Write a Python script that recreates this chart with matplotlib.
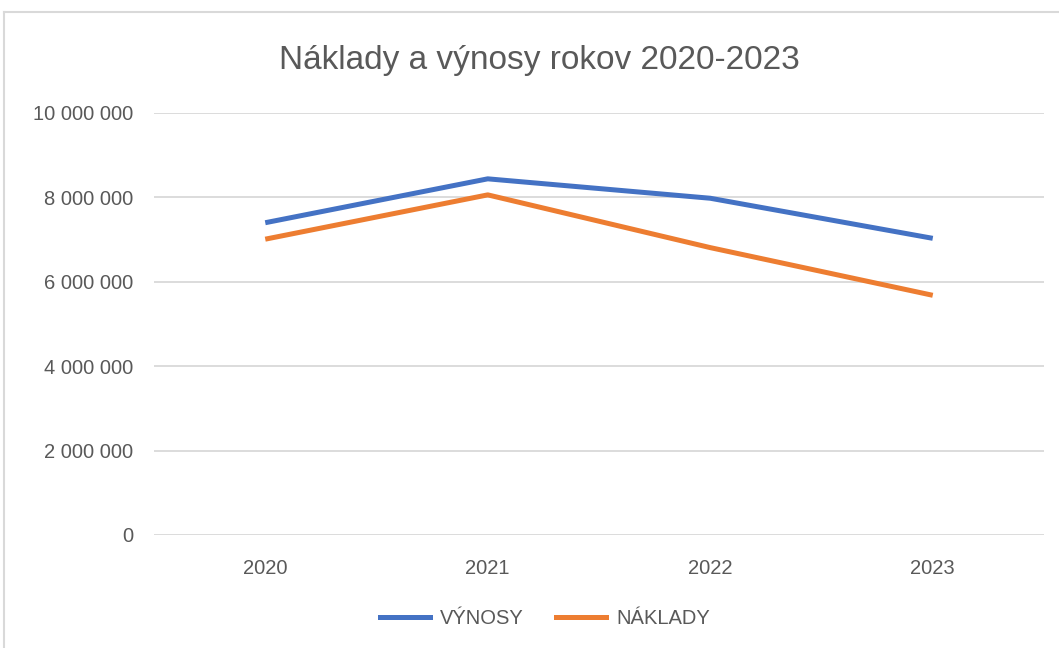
import matplotlib
matplotlib.use("Agg")
import matplotlib.pyplot as plt
from matplotlib.ticker import FuncFormatter
from matplotlib.lines import Line2D

years = ["2020", "2021", "2022", "2023"]
vynosy = [7400000, 8440000, 7980000, 7030000]
naklady = [7010000, 8060000, 6810000, 5680000]
yticks = [0, 2000000, 4000000, 6000000, 8000000, 10000000]

TEXT = "#595959"
GRID = "#D9D9D9"
BLUE = "#4472C4"
ORANGE = "#ED7D31"

plt.rcParams["font.family"] = ["Liberation Sans", "DejaVu Sans"]

W, H = 1059, 648
fig = plt.figure(figsize=(W / 100, H / 100), dpi=100)
ax = fig.add_axes([154 / W, 1 - 535 / H, (1044 - 154) / W, (535 - 113) / H])

x = list(range(len(years)))
ax.plot(x, vynosy, color=BLUE, lw=3.6, solid_capstyle="butt", solid_joinstyle="round", label="VÝNOSY", zorder=3)
ax.plot(x, naklady, color=ORANGE, lw=3.6, solid_capstyle="butt", solid_joinstyle="round", label="NÁKLADY", zorder=3)

ax.set_xlim(-0.5, len(years) - 0.5)
ax.set_ylim(0, 10000000)
ax.set_xticks(x)
ax.set_xticklabels(years)
ax.set_yticks(yticks)
ax.yaxis.set_major_formatter(FuncFormatter(lambda v, p: f"{int(v):,}".replace(",", " ")))
ax.tick_params(axis="both", length=0, labelsize=14.5, colors=TEXT)
ax.tick_params(axis="y", pad=15)
ax.tick_params(axis="x", pad=17)
ax.grid(axis="y", color=GRID, lw=1.3)
ax.set_axisbelow(True)
for s in ax.spines.values():
    s.set_visible(False)

fig.text(539 / W, 1 - 60 / H, "Náklady a výnosy rokov 2020-2023", ha="center", va="center",
         fontsize=24, color=TEXT)

handles = [Line2D([], [], color=BLUE, lw=3.6), Line2D([], [], color=ORANGE, lw=3.6)]
fig.legend(handles, ["VÝNOSY", "NÁKLADY"], loc="center", bbox_to_anchor=(545 / W, 1 - 619 / H),
           ncol=2, frameon=False, fontsize=14.5, labelcolor=TEXT, handlelength=2.5,
           handletextpad=0.5, columnspacing=1.6)

# outer chart border (top and left visible)
fig.add_artist(Line2D([4 / W, 1], [1 - 12 / H, 1 - 12 / H], color=GRID, lw=1.5, transform=fig.transFigure))
fig.add_artist(Line2D([4 / W, 4 / W], [0, 1 - 12 / H], color=GRID, lw=1.5, transform=fig.transFigure))

fig.savefig("out.png", dpi=100)
